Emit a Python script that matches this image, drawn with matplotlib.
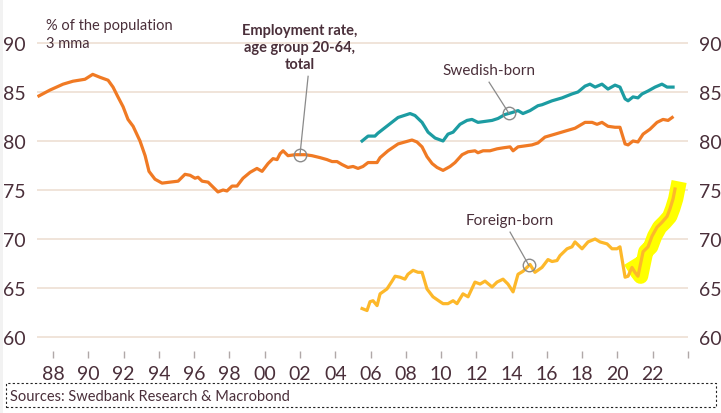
import numpy as np
import matplotlib
matplotlib.use('Agg')
import matplotlib.pyplot as plt
from matplotlib.patches import Rectangle

# Employment rate, age 20-64, % of population (3 mma)
total_year = [1987.2, 1987.83, 1988.57, 1989.13, 1989.81, 1990.25, 1990.66, 1991.12, 1991.40,
              1991.68, 1991.97, 1992.25, 1992.54, 1992.93, 1993.22, 1993.44, 1993.78, 1994.18,
              1994.63, 1995.09, 1995.48, 1995.77, 1996.05, 1996.22, 1996.45, 1996.79, 1997.07,
              1997.35, 1997.64, 1997.86, 1998.15, 1998.43, 1998.77, 1999.17, 1999.56, 1999.85,
              2000.19, 2000.47, 2000.70, 2000.87, 2001.04, 2001.32, 2001.72, 2002.29, 2002.68,
              2003.14, 2003.53, 2003.82, 2004.10, 2004.38, 2004.72, 2005.01, 2005.29, 2005.57,
              2005.86, 2006.37, 2006.54, 2006.99, 2007.56, 2007.95, 2008.35, 2008.63, 2008.92,
              2009.20, 2009.49, 2009.77, 2010.11, 2010.51, 2010.79, 2011.19, 2011.53, 2011.92,
              2012.09, 2012.38, 2012.77, 2013.17, 2013.51, 2013.91, 2014.08, 2014.36, 2014.76,
              2015.15, 2015.49, 2015.89, 2016.46, 2017.02, 2017.59, 2018.16, 2018.56, 2018.84,
              2019.12, 2019.46, 2019.86, 2020.14, 2020.43, 2020.60, 2020.88, 2021.16, 2021.45,
              2021.84, 2022.24, 2022.58, 2022.87, 2023.10]
total_val = [84.6, 85.2, 85.8, 86.1, 86.3, 86.8, 86.5, 86.2, 85.5,
             84.5, 83.5, 82.2, 81.5, 80.0, 78.5, 76.9, 76.1, 75.7,
             75.8, 75.9, 76.6, 76.5, 76.2, 76.3, 75.9, 75.8, 75.3,
             74.8, 75.0, 74.9, 75.4, 75.4, 76.2, 76.8, 77.2, 76.9,
             77.7, 78.2, 78.1, 78.7, 79.0, 78.5, 78.6, 78.6, 78.5,
             78.3, 78.1, 77.9, 77.9, 77.6, 77.3, 77.4, 77.2, 77.4,
             77.8, 77.8, 78.3, 79.0, 79.7, 79.9, 80.1, 79.9, 79.4,
             78.4, 77.7, 77.3, 77.0, 77.4, 77.8, 78.6, 78.9, 79.0,
             78.8, 79.0, 79.0, 79.2, 79.3, 79.4, 79.0, 79.4, 79.5,
             79.6, 79.8, 80.4, 80.7, 81.0, 81.3, 81.9, 81.9, 81.7,
             81.9, 81.5, 81.4, 81.4, 79.7, 79.6, 80.0, 79.9, 80.7,
             81.2, 81.9, 82.2, 82.1, 82.4]

swe_year = [2005.52, 2005.86, 2006.25, 2006.42, 2006.99, 2007.56, 2008.24, 2008.52, 2008.92,
            2009.26, 2009.66, 2010.11, 2010.39, 2010.68, 2011.07, 2011.47, 2011.75, 2012.09,
            2012.49, 2012.89, 2013.23, 2013.62, 2014.02, 2014.36, 2014.64, 2015.04, 2015.49,
            2015.72, 2016.29, 2016.86, 2017.42, 2017.76, 2018.16, 2018.44, 2018.73, 2019.12,
            2019.46, 2019.86, 2020.14, 2020.43, 2020.60, 2020.88, 2021.16, 2021.39, 2021.73,
            2022.13, 2022.52, 2022.81, 2023.15]
swe_val = [80.0, 80.5, 80.5, 80.8, 81.6, 82.4, 82.8, 82.6, 81.9,
           80.9, 80.3, 80.0, 80.7, 80.9, 81.7, 82.1, 82.2, 81.9,
           82.0, 82.1, 82.3, 82.7, 82.9, 83.1, 82.8, 83.1, 83.6,
           83.7, 84.1, 84.4, 84.8, 85.0, 85.6, 85.8, 85.5, 85.8,
           85.3, 85.7, 85.5, 84.3, 84.1, 84.5, 84.4, 84.8, 85.1,
           85.5, 85.8, 85.5, 85.5]

for_year = [2005.52, 2005.80, 2005.97, 2006.14, 2006.37, 2006.54, 2006.93, 2007.22, 2007.39,
            2007.67, 2007.95, 2008.12, 2008.41, 2008.69, 2008.92, 2009.20, 2009.54, 2009.94,
            2010.11, 2010.39, 2010.68, 2010.90, 2011.24, 2011.53, 2011.92, 2012.21, 2012.49,
            2012.89, 2013.17, 2013.51, 2013.79, 2014.08, 2014.36, 2014.64, 2015.04, 2015.32,
            2015.72, 2016.06, 2016.29, 2016.57, 2016.74, 2017.14, 2017.42, 2017.59, 2017.99,
            2018.33, 2018.73, 2019.01, 2019.41, 2019.69, 2019.97, 2020.14, 2020.43, 2020.60,
            2020.82, 2020.99, 2021.16, 2021.45, 2021.73, 2021.96, 2022.24, 2022.52, 2022.81,
            2022.98, 2023.15, 2023.26]
for_val = [62.9, 62.7, 63.6, 63.7, 63.2, 64.4, 64.9, 65.7, 66.2,
           66.1, 65.9, 66.4, 66.8, 66.6, 66.6, 64.9, 64.1, 63.6,
           63.4, 63.4, 63.7, 63.4, 64.4, 64.1, 65.6, 65.4, 65.7,
           65.1, 65.6, 65.9, 65.4, 64.6, 66.4, 66.7, 67.4, 66.6,
           67.1, 67.9, 67.7, 67.8, 68.3, 69.0, 69.2, 69.7, 69.0,
           69.7, 70.0, 69.7, 69.5, 69.0, 69.0, 69.2, 66.1, 66.2,
           67.1, 66.6, 66.2, 68.7, 69.2, 70.3, 71.2, 71.7, 72.3,
           73.1, 74.1, 75.1]

highlight_from = 2020.82
yticks = [60, 65, 70, 75, 80, 85, 90]
xticks = list(range(1988, 2025, 2))
xlabels = [f'{y % 100:02d}' for y in xticks[:-1]] + ['']

c_total = '#f07a24'
c_swe = '#1c9ca2'
c_for = '#fdb82a'
c_text = '#4a2f3a'
c_grid = '#eddfd3'

plt.rcParams['font.family'] = ['Lato', 'DejaVu Sans']

fig = plt.figure(figsize=(7.21, 4.14), dpi=100)
ax = fig.add_axes([0.0513, 0.1505, 0.903, 0.7669])

ax.set_xlim(1987.09, 2024.0)
ax.set_ylim(58.6, 91)
ax.set_yticks(yticks)
ax.set_xticks(xticks)
ax.set_xticklabels(xlabels)
ax.grid(axis='y', color=c_grid, lw=1.2)
ax.set_axisbelow(True)
for s in ax.spines.values():
    s.set_visible(False)
ax.tick_params(axis='y', length=0, labelright=True, labelsize=14, labelcolor=c_text, pad=8)
ax.tick_params(axis='x', length=5, width=1, color='#b0a8a8', direction='out',
               labelsize=14, labelcolor=c_text, pad=5)

# highlighter stroke over the latest foreign-born numbers
fy = np.array(for_year)
fv = np.array(for_val)
m = fy >= highlight_from
ax.plot(fy[m] + 0.15, fv[m], color='#ffff00', lw=11, solid_capstyle='projecting',
        solid_joinstyle='round', zorder=2)

ax.plot(total_year, total_val, color=c_total, lw=2.3, zorder=3)
ax.plot(swe_year, swe_val, color=c_swe, lw=2.3, zorder=3)
ax.plot(for_year, for_val, color=c_for, lw=2.3, zorder=3)

# annotations: circle on the line + leader to label
ann = [
    ('Employment rate,\nage group 20-64,\ntotal', total_year, total_val, 2002.0, 2002.46, 86.6, 89.6, 'bold'),
    ('Swedish-born', swe_year, swe_val, 2013.85, 2012.72, 86.0, 87.2, 'normal'),
    ('Foreign-born', for_year, for_val, 2014.98, 2013.91, 70.7, 71.9, 'normal'),
]
for label, xs, ys, at, lx, ly, ty, w in ann:
    yv = np.interp(at, xs, ys)
    ax.plot([at], [yv], marker='o', ms=9, mfc='none', mec='#8a8a8a', mew=1, zorder=5)
    ax.plot([lx, at], [ly, yv], color='#8a8a8a', lw=0.9, zorder=4)
    if w == 'bold':
        ax.text(2002.0, ty, label, ha='center', va='center', fontsize=10.5, fontweight='bold',
                color=c_text, linespacing=1.3, clip_on=False)
    else:
        ax.text(lx - 0.03, ty, label, ha='center', va='center', fontsize=11, color=c_text)

fig.text(46 / 721, 1 - 26 / 414, '% of the population', fontsize=10.5, color=c_text, va='center')
fig.text(46 / 721, 1 - 44 / 414, '3 mma', fontsize=10.5, color=c_text, va='center')

fig.patches.append(Rectangle((6 / 721, 6 / 414), 710 / 721, 24 / 414, transform=fig.transFigure,
                             fill=False, ec='#222222', lw=0.8, ls=(0, (2, 2))))
fig.text(10 / 721, 17 / 414, 'Sources: Swedbank Research & Macrobond', fontsize=10.5,
         color=c_text, va='center')
fig.patches.append(Rectangle((0, 0), 3 / 721, 1, transform=fig.transFigure, fc='#f2f2f2', ec='none'))

fig.savefig('out.png', dpi=100)
